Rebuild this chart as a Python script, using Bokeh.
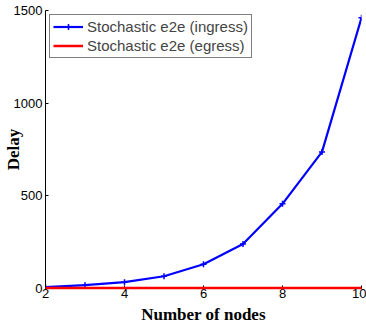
from bokeh.plotting import figure
from bokeh.models import Legend, LegendItem, FixedTicker, Range1d
from bokeh.embed import file_html
from bokeh.resources import INLINE

nodes = [2, 3, 4, 5, 6, 7, 8, 9, 10]
ingress = [7, 18, 34, 66, 131, 240, 457, 737, 1461]
egress = [3, 3, 3, 3, 3, 3, 3, 3, 3]
x_ticks = [2, 4, 6, 8, 10]
y_ticks = [0, 500, 1000, 1500]

p = figure(width=366, height=326, output_backend="svg", toolbar_location=None,
           x_range=Range1d(2, 10), y_range=Range1d(0, 1500),
           min_border_left=45, min_border_right=5, min_border_top=10, min_border_bottom=0)
p.outline_line_color = None
p.xgrid.visible = False
p.ygrid.visible = False

r1 = p.line(nodes, ingress, line_color="#0000ff", line_width=2.2)
m1 = p.scatter(nodes, ingress, marker="cross", size=6, line_color="#0000ff", line_width=1.5)
r2 = p.line(nodes, egress, line_color="#ff0000", line_width=2.5, level="overlay")

for ax in (p.xaxis[0], p.yaxis[0]):
    ax.major_tick_in = 3
    ax.major_tick_out = 0
    ax.minor_tick_line_color = None
    ax.axis_line_color = "black"
    ax.major_tick_line_color = "black"
    ax.major_label_text_font = "Liberation Sans"
    ax.major_label_text_font_size = "13px"
    ax.major_label_text_color = "black"
    ax.major_label_text_line_height = 1.0
    ax.axis_label_text_font = "Liberation Serif"
    ax.axis_label_text_font_style = "bold"
    ax.axis_label_text_font_size = "17px"
    ax.axis_label_text_color = "black"
    ax.axis_label_text_line_height = 1.0

p.xaxis.ticker = FixedTicker(ticks=x_ticks)
p.yaxis.ticker = FixedTicker(ticks=y_ticks)
p.xaxis.axis_label = "Number of nodes"
p.yaxis.axis_label = "Delay"
p.xaxis.major_label_standoff = 0
p.xaxis.axis_label_standoff = 4
p.yaxis.major_label_standoff = 3
p.yaxis.axis_label_standoff = -12

legend = Legend(items=[LegendItem(label="Stochastic e2e (ingress)", renderers=[r1, m1]),
                       LegendItem(label="Stochastic e2e (egress)", renderers=[r2])],
                location="top_left")
legend.label_text_font = "Liberation Sans"
legend.label_text_font_size = "15px"
legend.label_text_line_height = 1.0
legend.label_height = 15
legend.glyph_height = 15
legend.glyph_width = 30
legend.spacing = 2
legend.padding = 3
legend.margin = 4
legend.label_standoff = 4
legend.border_line_color = "black"
legend.border_line_width = 1.5
legend.background_fill_alpha = 1
p.add_layout(legend)

open("out.html", "w").write(file_html(p, INLINE))
